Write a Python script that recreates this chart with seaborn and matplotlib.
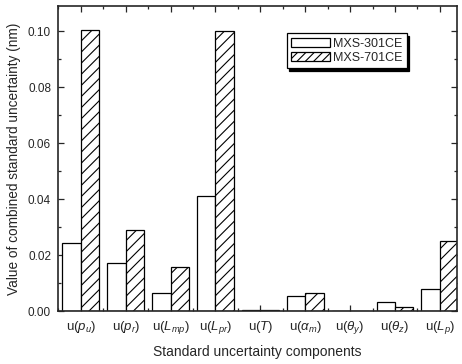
import matplotlib
matplotlib.use("Agg")
import matplotlib.pyplot as plt
import matplotlib.patches as mpatches
import numpy as np
import pandas as pd
import seaborn as sns

components = [r"u($p_u$)", r"u($p_r$)", r"u($L_{mp}$)", r"u($L_{pr}$)", r"u($T$)",
              r"u($\alpha_m$)", r"u($\theta_y$)", r"u($\theta_z$)", r"u($L_p$)"]
series_names = ["MXS-301CE", "MXS-701CE"]
mxs301 = [0.0243, 0.0171, 0.0064, 0.0411, 0.0002, 0.0054, 0.0001, 0.0032, 0.0077]
mxs701 = [0.1005, 0.0289, 0.0157, 0.0999, 0.0004, 0.0064, 0.0001, 0.0016, 0.0250]
yticks = [0.00, 0.02, 0.04, 0.06, 0.08, 0.10]

sns.set_style("ticks")
plt.rcParams["font.family"] = ["Liberation Sans", "DejaVu Sans"]
plt.rcParams["mathtext.fontset"] = "custom"
plt.rcParams["mathtext.rm"] = "Liberation Sans"
plt.rcParams["mathtext.it"] = "Liberation Sans:italic"
plt.rcParams["hatch.linewidth"] = 0.8

df = pd.DataFrame({
    "component": components * 2,
    "series": [series_names[0]] * len(components) + [series_names[1]] * len(components),
    "value": mxs301 + mxs701,
})

fig = plt.figure(figsize=(4.62, 3.64), dpi=100)
ax = fig.add_axes([0.1255, 0.1456, 0.8635, 0.8384])

sns.barplot(data=df, x="component", y="value", hue="series", order=components,
            hue_order=series_names, palette=["white", "white"], edgecolor="black",
            linewidth=0.9, width=0.82, gap=0, ax=ax, legend=False)

for i, bar in enumerate(ax.patches):
    if i >= len(components):
        bar.set_hatch("///")

ax.set_xlim(-0.51, 8.38)
ax.set_ylim(0, 0.109)
ax.set_yticks(yticks)
ax.set_yticklabels([f"{v:.2f}" for v in yticks])
ax.set_yticks(np.arange(0.01, 0.109, 0.02), minor=True)
ax.set_xticks(np.arange(-0.5, 8.5, 1.0), minor=True)

for s in ax.spines.values():
    s.set_linewidth(1.2)
    s.set_visible(True)

ax.tick_params(axis="both", which="both", direction="in", top=True, right=True,
               width=0.9)
ax.tick_params(axis="y", labelsize=8.5, pad=5)
ax.tick_params(axis="x", labelsize=9.5, pad=6)
ax.tick_params(axis="both", which="major", length=4)
ax.tick_params(axis="both", which="minor", length=2.5)

ax.set_xlabel("Standard uncertainty components", fontsize=10, labelpad=6)
ax.set_ylabel("Value of combined standard uncertainty (nm)", fontsize=9.8, labelpad=5)

handles = [mpatches.Patch(facecolor="white", edgecolor="black", linewidth=0.9),
           mpatches.Patch(facecolor="white", edgecolor="black", linewidth=0.9, hatch="////")]
leg = ax.legend(handles, series_names, loc="upper left", bbox_to_anchor=(0.573, 0.91),
                fontsize=9, frameon=True, fancybox=False, edgecolor="black",
                shadow={"color": "black", "alpha": 1.0}, handlelength=3.1,
                handleheight=0.8, handletextpad=0.25, labelspacing=0.15,
                borderpad=0.35, borderaxespad=0)
leg.get_frame().set_linewidth(0.9)

fig.savefig("out.png", dpi=100)
